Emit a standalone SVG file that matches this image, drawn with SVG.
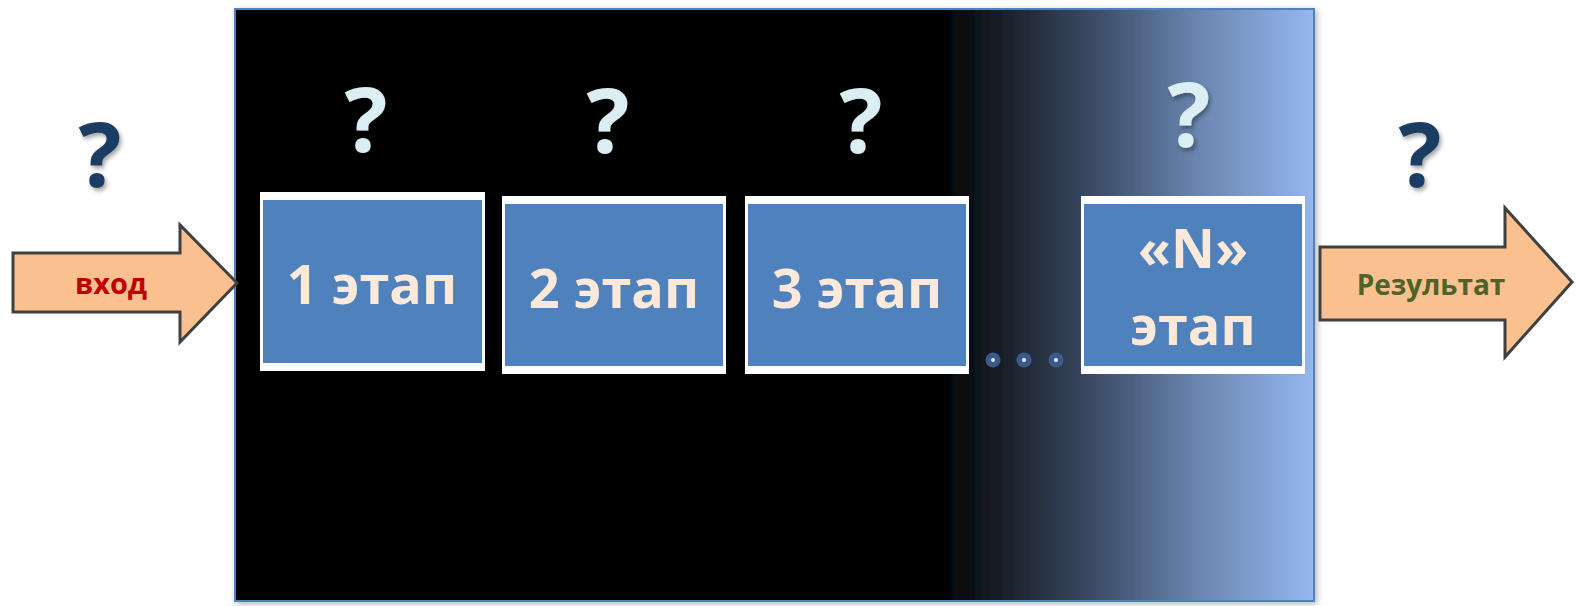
<svg xmlns="http://www.w3.org/2000/svg" width="1576" height="606" viewBox="0 0 1576 606">
  <defs>
    <linearGradient id="bg" x1="0" y1="0" x2="1" y2="0">
      <stop offset="0" stop-color="#000000"/>
      <stop offset="0.651" stop-color="#000000"/>
      <stop offset="0.746" stop-color="#283140"/>
      <stop offset="0.802" stop-color="#3e4f6a"/>
      <stop offset="0.894" stop-color="#6b86b0"/>
      <stop offset="1" stop-color="#94b7ef"/>
    </linearGradient>
    <filter id="shadow" x="-5%" y="-5%" width="110%" height="110%">
      <feDropShadow dx="2" dy="2" stdDeviation="3" flood-color="#000" flood-opacity="0.3"/>
    </filter>
    <filter id="qshadow" x="-30%" y="-30%" width="160%" height="160%">
      <feDropShadow dx="2" dy="3" stdDeviation="2" flood-color="#000" flood-opacity="0.35"/>
    </filter>
    <style>
      .frame { fill: #ffffff; }
      .stage { fill: #4f81bd; }
      .stxt { font-family: "Open Sans", "Liberation Sans", sans-serif; font-weight: bold; font-size: 54px; fill: #fde9d9; text-anchor: middle; }
      .qd { font-family: "Open Sans", "Liberation Sans", sans-serif; font-weight: bold; font-size: 90px; fill: #1f3d63; text-anchor: middle; }
      .ql { font-family: "Open Sans", "Liberation Sans", sans-serif; font-weight: bold; font-size: 90px; fill: #dbeef4; text-anchor: middle; }
      .arrow { fill: #fac090; stroke: #404040; stroke-width: 3; stroke-linejoin: miter; }
      .atxt { font-family: "Open Sans", "Liberation Sans", sans-serif; font-weight: bold; text-anchor: middle; }
      .dot { fill: #3a5a8a; }
      .dotc { fill: #e8eef8; }
    </style>
  </defs>

  <rect width="1576" height="606" fill="#ffffff"/>

  <g id="panel">
    <rect x="235" y="9" width="1079" height="592" fill="url(#bg)" stroke="#4f81bd" stroke-width="2" filter="url(#shadow)"/>
  </g>

  <g id="connectors">
    <g id="arrow-in">
      <polygon class="arrow" points="13,253 180,253 180,225 237,283 180,342 180,312 13,312"/>
      <text class="atxt" x="111" y="294" font-size="29" fill="#c00000">вход</text>
    </g>
    <g id="arrow-out">
      <polygon class="arrow" points="1320,247 1505,247 1505,208 1572,282 1505,357 1505,320 1320,320"/>
      <text class="atxt" x="1431" y="295" font-size="28" fill="#4f6228">Результат</text>
    </g>
  </g>

  <g id="q-in"><text class="qd" x="100" y="187" filter="url(#qshadow)">?</text></g>
  <g id="q-out"><text class="qd" x="1420" y="187" filter="url(#qshadow)">?</text></g>

  <g id="stage1">
    <text class="ql" x="366" y="152" filter="url(#qshadow)">?</text>
    <rect class="frame" x="260" y="192" width="225" height="179"/>
    <rect class="stage" x="263" y="200" width="219" height="163"/>
    <text class="stxt" x="372" y="304">1 этап</text>
  </g>

  <g id="stage2">
    <text class="ql" x="608" y="153" filter="url(#qshadow)">?</text>
    <rect class="frame" x="502" y="196" width="224" height="178"/>
    <rect class="stage" x="505" y="204" width="218" height="162"/>
    <text class="stxt" x="614" y="308">2 этап</text>
  </g>

  <g id="stage3">
    <text class="ql" x="861" y="153" filter="url(#qshadow)">?</text>
    <rect class="frame" x="745" y="196" width="224" height="178"/>
    <rect class="stage" x="748" y="204" width="218" height="162"/>
    <text class="stxt" x="857" y="308">3 этап</text>
  </g>

  <g id="ellipsis">
    <circle class="dot" cx="993" cy="360" r="7.5"/>
    <circle class="dotc" cx="993" cy="360" r="2"/>
    <circle class="dot" cx="1024" cy="360" r="7.5"/>
    <circle class="dotc" cx="1024" cy="360" r="2"/>
    <circle class="dot" cx="1056" cy="360" r="7.5"/>
    <circle class="dotc" cx="1056" cy="360" r="2"/>
  </g>

  <g id="stageN">
    <text class="ql" x="1189" y="147" filter="url(#qshadow)">?</text>
    <rect class="frame" x="1081" y="196" width="224" height="178"/>
    <rect class="stage" x="1084" y="204" width="218" height="162"/>
    <text class="stxt" x="1193" y="268">«N»</text>
    <text class="stxt" x="1193" y="345">этап</text>
  </g>
</svg>
